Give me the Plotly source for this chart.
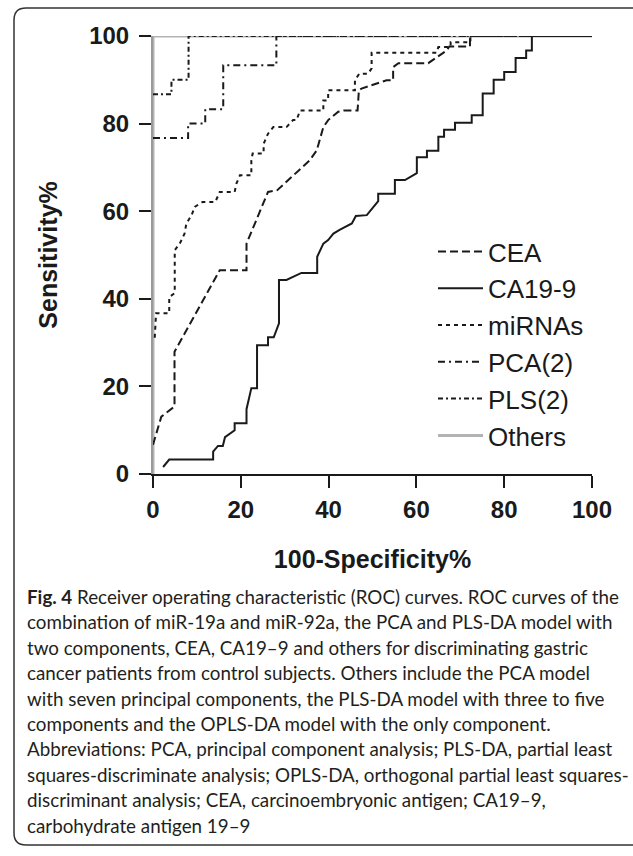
import plotly.graph_objects as go

# ---------------- data ----------------
cea_x = [0, 1.9, 4.9, 4.9, 15.2, 21.3, 21.3, 26.2, 28.3, 35.7, 37.3, 38.8, 39.9, 42.2, 43.5,
         46.6, 46.9, 47.5, 53.2, 54.7, 54.7, 55.9, 62.7, 66.9, 67.5, 72.2, 72.2, 100]
cea_y = [6.7, 13.1, 15.4, 27.9, 46.5, 46.5, 52.6, 64.4, 64.8, 71.6, 73.9, 79.2, 80.8, 82.7, 83.0,
         83.0, 87.6, 88.0, 89.9, 89.9, 92.9, 93.8, 93.8, 96.7, 97.6, 97.6, 100, 100]

ca199_x = [2.3, 3.7, 13.7, 13.7, 14.8, 15.9, 16.4, 18.6, 18.6, 21.3, 21.3, 22.4, 23.7, 23.7,
           26.2, 26.2, 27.5, 28.7, 28.7, 30.4, 33.8, 37.4, 37.4, 38.8, 39.9, 41.1, 42.6, 45.3,
           46.2, 48.7, 51.3, 51.3, 55.1, 55.1, 57.4, 60.1, 60.1, 62.4, 62.4, 65.0, 65.0, 66.3,
           66.3, 68.8, 68.8, 72.6, 72.6, 75.1, 75.1, 77.6, 77.6, 80.0, 80.0, 82.6, 82.6, 85.0,
           85.0, 86.3, 86.3, 100]
ca199_y = [1.6, 3.3, 3.3, 5.1, 6.4, 6.4, 8.4, 10.0, 11.6, 11.6, 14.8, 19.6, 19.6, 29.4,
           29.4, 31.2, 31.2, 34.4, 44.3, 44.3, 45.9, 45.9, 49.6, 52.6, 53.4, 54.9, 55.8, 57.2,
           58.9, 59.1, 62.3, 64.0, 64.0, 67.1, 67.1, 68.7, 72.3, 72.3, 73.8, 73.8, 77.0, 77.0,
           78.6, 78.6, 80.2, 80.2, 81.9, 81.9, 86.9, 86.9, 90.0, 90.0, 91.8, 91.8, 95.0, 95.0,
           96.7, 96.7, 100, 100]

mirna_x = [0.4, 0.7, 3.7, 3.7, 4.95, 4.95, 6.1, 7.2, 7.6, 8.8, 9.5, 11.3, 14.2, 15.2, 18.6,
           19.0, 19.8, 22.4, 22.4, 22.7, 25.2, 25.2, 26.2, 27.4, 30.4, 31.9, 32.7, 33.5, 38.8,
           38.8, 39.9, 39.9, 46.0, 46.0, 47.0, 49.0, 49.8, 49.8, 64.6, 65.0, 67.8, 67.8, 72.3,
           72.3, 100]
mirna_y = [31.1, 36.7, 36.7, 40.4, 41.3, 51.1, 52.6, 54.9, 57.2, 59.1, 61.0, 62.1, 62.1, 64.4, 64.4,
           66.3, 68.2, 68.2, 71.6, 73.2, 73.2, 75.4, 77.7, 79.2, 79.2, 80.8, 80.8, 83.0, 83.0,
           85.3, 85.3, 87.6, 87.6, 89.9, 91.4, 91.4, 92.6, 96.2, 96.2, 97.5, 97.5, 98.6, 98.6,
           100, 100]

pca2_x = [0, 8.0, 8.0, 11.9, 11.9, 16.0, 16.0, 28.1, 28.1, 100]
pca2_y = [76.7, 76.7, 80.0, 80.0, 83.3, 83.3, 93.3, 93.3, 100, 100]

pls2_x = [0, 4.2, 4.2, 8.1, 8.1, 100]
pls2_y = [86.7, 86.7, 90.0, 90.0, 100, 100]

others_x = [0, 0, 100]
others_y = [0, 100, 100]

tick_vals = [0, 20, 40, 60, 80, 100]
tick_text = ["0", "20", "40", "60", "80", "100"]

caption_lines = [
    "<b>Fig. 4</b> Receiver operating characteristic (ROC) curves. ROC curves of the",
    "combination of miR-19a and miR-92a, the PCA and PLS-DA model with",
    "two components, CEA, CA19\u20139 and others for discriminating gastric",
    "cancer patients from control subjects. Others include the PCA model",
    "with seven principal components, the PLS-DA model with three to five",
    "components and the OPLS-DA model with the only component.",
    "Abbreviations: PCA, principal component analysis; PLS-DA, partial least",
    "squares-discriminate analysis; OPLS-DA, orthogonal partial least squares-",
    "discriminant analysis; CEA, carcinoembryonic antigen; CA19\u20139,",
    "carbohydrate antigen 19\u20139",
]

# ---------------- layout geometry (pixels) ----------------
W, H = 633, 856
ML, MR, MT, MB = 153, 41, 36, 382
PW, PH = W - ML - MR, H - MT - MB


def px_x(p):
    return (p - ML) / PW


def px_y(p):
    return (H - MB - p) / PH


INK = "#1a1a1a"
AX_FONT = "Liberation Sans, Arial, sans-serif"
CAP_SIZE = 18.8
CAP_BASE0, CAP_STEP = 602.5, 25.4

fig = go.Figure()

fig.add_trace(go.Scatter(x=others_x, y=others_y, mode="lines", name="Others", legendrank=6,
                         line=dict(color="#b3b3b3", width=3)))
fig.add_trace(go.Scatter(x=ca199_x, y=ca199_y, mode="lines", name="CA19-9", legendrank=2,
                         line=dict(color=INK, width=2)))
fig.add_trace(go.Scatter(x=cea_x, y=cea_y, mode="lines", name="CEA", legendrank=1,
                         line=dict(color=INK, width=2, dash="8px,4px")))
fig.add_trace(go.Scatter(x=mirna_x, y=mirna_y, mode="lines", name="miRNAs", legendrank=3,
                         line=dict(color=INK, width=2, dash="4px,4px")))
fig.add_trace(go.Scatter(x=pca2_x, y=pca2_y, mode="lines", name="PCA(2)", legendrank=4,
                         line=dict(color=INK, width=2, dash="7px,4px,2px,4px")))
fig.add_trace(go.Scatter(x=pls2_x, y=pls2_y, mode="lines", name="PLS(2)", legendrank=5,
                         line=dict(color=INK, width=2, dash="5px,3px,2px,3px")))

axis_common = dict(
    range=[0, 100], tickvals=tick_vals, ticktext=tick_text,
    ticks="outside", ticklen=12, tickwidth=2, tickcolor=INK,
    showline=True, linewidth=2, showgrid=False, zeroline=False,
    tickfont=dict(family=AX_FONT, size=24, color=INK, weight="bold"),
    fixedrange=True,
)

fig.update_xaxes(**axis_common, linecolor=INK, ticklabelstandoff=1,
                 title=dict(text="100-Specificity%", standoff=29,
                            font=dict(family=AX_FONT, size=25, color=INK, weight="bold")))
fig.update_yaxes(**axis_common, linecolor="#9a9a9a", ticklabelstandoff=5,
                 title=dict(text="Sensitivity%", standoff=24,
                            font=dict(family=AX_FONT, size=25, color=INK, weight="bold")))

# rounded frame (open on the right, as in the reference)
x0, x1, y0, y1, r = px_x(14), px_x(660), px_y(8), px_y(845), 12
rx, ry = r / PW, r / PH
frame = (f"M {x1},{y0} L {x0+rx},{y0} Q {x0},{y0} {x0},{y0-ry} "
         f"L {x0},{y1+ry} Q {x0},{y1} {x0+rx},{y1} L {x1},{y1}")

annotations = []
for k, line in enumerate(caption_lines):
    base = CAP_BASE0 + k * CAP_STEP
    annotations.append(dict(
        xref="paper", yref="paper", x=px_x(25), y=px_y(base - 0.32 * CAP_SIZE),
        xanchor="left", yanchor="middle", align="left", showarrow=False,
        text=line,
        font=dict(family="Lato, sans-serif", size=CAP_SIZE, color="#231f20"),
    ))

fig.update_layout(
    width=W, height=H,
    margin=dict(l=ML, r=MR, t=MT, b=MB, pad=0),
    paper_bgcolor="white", plot_bgcolor="white",
    showlegend=True,
    legend=dict(x=px_x(433), y=px_y(228), xanchor="left", yanchor="top",
                bgcolor="rgba(0,0,0,0)", borderwidth=0,
                font=dict(family=AX_FONT, size=26, color=INK),
                itemwidth=45),
    shapes=[dict(type="path", xref="paper", yref="paper", path=frame,
                 line=dict(color="#333333", width=1.5), layer="below")],
    annotations=annotations,
)

fig.write_html("out.html")
